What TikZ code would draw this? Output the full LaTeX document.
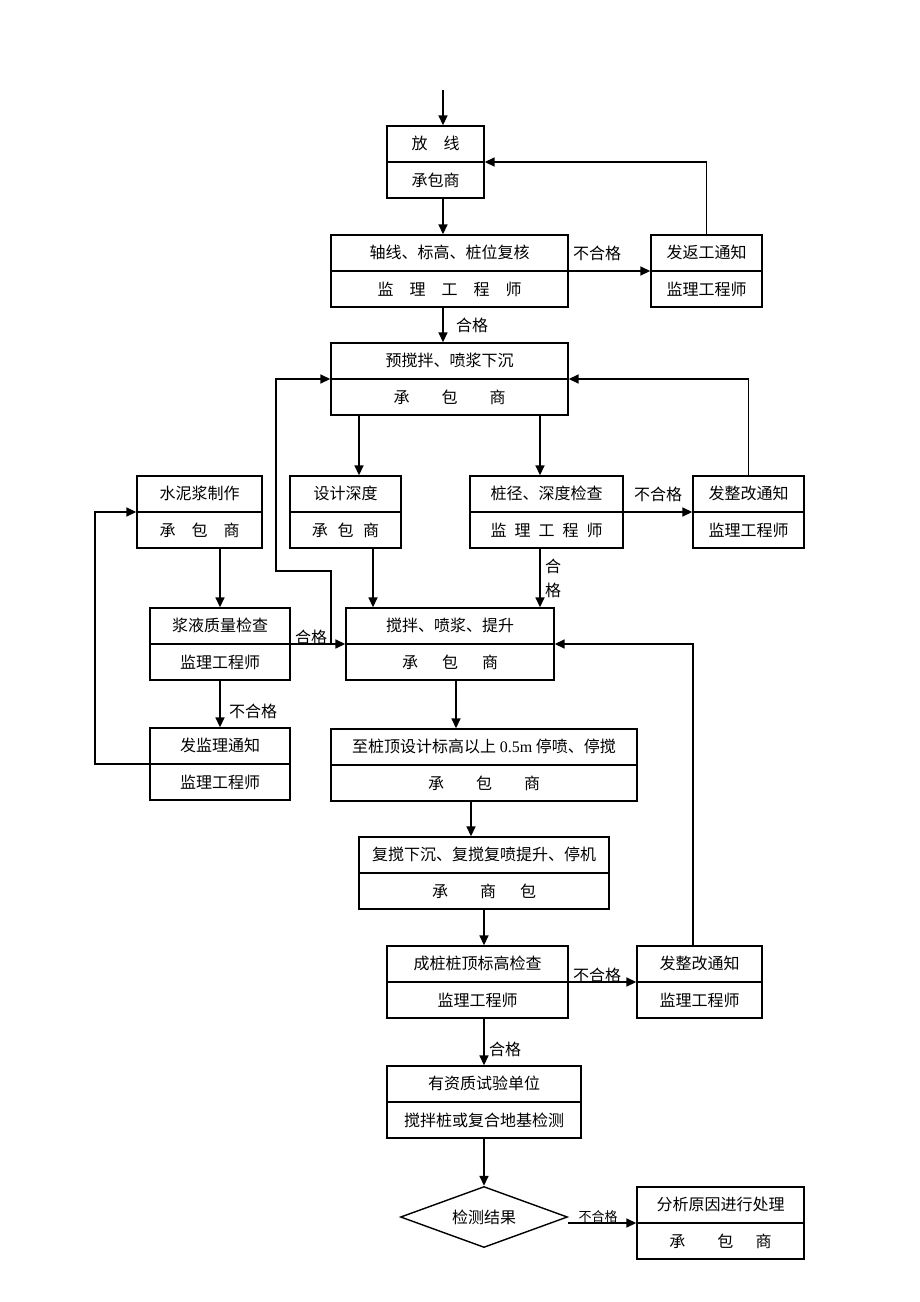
\documentclass[tikz,border=0pt]{standalone}
\usepackage{fontspec}
\setmainfont{Noto Sans CJK SC}
\newfontfamily\latinfont{Liberation Serif}
\usetikzlibrary{arrows.meta,fit,calc,shapes.geometric}
\tikzset{
  box/.style={draw, line width=0.7pt, inner sep=0pt, rectangle},
  txt/.style={inner sep=0pt, font=\fontsize{8}{10}\selectfont},
  lbl/.style={inner sep=0pt, font=\fontsize{8}{10}\selectfont},
  smalllbl/.style={inner sep=0pt, font=\fontsize{6.5}{8}\selectfont},
  arr/.style={line width=0.8pt, -{Triangle[length=5pt,width=4.5pt]}},
  ln/.style={line width=0.7pt}
}
\newcommand\tbox[7]{%
  \node[box, fit={(#2,#3) (#4,#5)}] (#1) {};
  \draw[ln] (#1.west) -- (#1.east);
  \node[txt] (#1-t) at ($(#1.center)!0.5!(#1.north)$) {#6};
  \node[txt] (#1-b) at ($(#1.center)!0.5!(#1.south)$) {#7};
}
\newcommand\gp[1]{\hspace{#1}}
\begin{document}
\begin{tikzpicture}[x=0.5pt,y=-0.5pt]
\useasboundingbox (0,0) rectangle (920,1302);

% boxes
\tbox{b1}{387}{126}{484}{198}{放\gp{1em}线}{承包商}
\tbox{b2}{331}{235}{568}{307}{轴线、标高、桩位复核}{监\gp{1em}理\gp{1em}工\gp{1em}程\gp{1em}师}
\tbox{r1}{651}{235}{762}{307}{发返工通知}{监理工程师}
\tbox{b3}{331}{343}{568}{415}{预搅拌、喷浆下沉}{承\gp{2em}包\gp{2em}商}
\tbox{c1}{137}{476}{262}{548}{水泥浆制作}{承\gp{1em}包\gp{1em}商}
\tbox{c2}{290}{476}{401}{548}{设计深度}{承\gp{0.6em}包\gp{0.6em}商}
\tbox{c3}{470}{476}{623}{548}{桩径、深度检查}{监\gp{0.5em}理\gp{0.5em}工\gp{0.5em}程\gp{0.5em}师}
\tbox{c4}{693}{476}{804}{548}{发整改通知}{监理工程师}
\tbox{d1}{150}{608}{290}{680}{浆液质量检查}{监理工程师}
\tbox{d2}{346}{608}{554}{680}{搅拌、喷浆、提升}{承\gp{1.5em}包\gp{1.5em}商}
\tbox{e1}{150}{728}{290}{800}{发监理通知}{监理工程师}
\tbox{e2}{331}{729}{637}{801}{至桩顶设计标高以上 {\latinfont 0.5m} 停喷、停搅}{承\gp{2em}包\gp{2em}商}
\tbox{f1}{359}{837}{609}{909}{复搅下沉、复搅复喷提升、停机}{承\gp{2em}商\gp{1.5em}包}
\tbox{g1}{387}{946}{568}{1018}{成桩桩顶标高检查}{监理工程师}
\tbox{g2}{637}{946}{762}{1018}{发整改通知}{监理工程师}
\tbox{h1}{387}{1066}{581}{1138}{有资质试验单位}{搅拌桩或复合地基检测}
\node[diamond, draw, line width=0.7pt, inner sep=0pt, minimum width=83.5pt, minimum height=30.5pt] (k) at (484,1217) {};
\node[txt] (k-t) at (k.center) {检测结果};
\tbox{m}{637}{1187}{804}{1259}{分析原因进行处理}{承\gp{2em}包\gp{1.4em}商}

% coordinates
\coordinate (s0) at (443,90);
\coordinate (xa) at (359,0);
\coordinate (xb) at (540,0);
\coordinate (xc) at (373,0);
\coordinate (xd) at (220,0);
\coordinate (xe) at (456,0);
\coordinate (xf) at (471,0);
\coordinate (xg) at (484,0);
\coordinate (xh) at (693,0);
\coordinate (j1) at (331,644);
\coordinate (j2) at (331,571);
\coordinate (j3) at (276,571);
\coordinate (j4) at (95,764);

% connectors
\draw[arr] (s0) -- (s0 |- b1.north);
\draw[arr] (s0 |- b1.south) -- (s0 |- b2.north);
\draw[arr] (b2.east) -- (r1.west);
\node[lbl] at (597,253) {不合格};
\draw[arr] (r1.north) |- (b1.east);
\draw[arr] (s0 |- b2.south) -- (s0 |- b3.north);
\node[lbl] at (472,325) {合格};

\draw[arr] (xa |- b3.south) -- (xa |- c2.north);
\draw[arr] (xb |- b3.south) -- (xb |- c3.north);
\draw[arr] (c3.east) -- (c4.west);
\node[lbl] at (658,494) {不合格};
\draw[arr] (c4.north) |- (b3.east);

\draw[arr] (xc |- c2.south) -- (xc |- d2.north);
\draw[arr] (xb |- c3.south) -- (xb |- d2.north);
\node[lbl] at (553,566) {合};
\node[lbl] at (553,590) {格};

\draw[arr] (xd |- c1.south) -- (xd |- d1.north);
\draw[arr] (d1.east) -- (d1.east -| d2.west);
\node[lbl] at (311,637) {合格};
\draw[arr] (j1) -- (j2) -- (j3) |- (b3.west);

\draw[arr] (xd |- d1.south) -- (xd |- e1.north);
\node[lbl] at (253,711) {不合格};
\draw[arr] (e1.west) -- (j4) |- (c1.west);

\draw[arr] (xe |- d2.south) -- (xe |- e2.north);
\draw[arr] (xf |- e2.south) -- (xf |- f1.north);
\draw[arr] (xg |- f1.south) -- (xg |- g1.north);
\draw[arr] (g1.east) -- (g2.west);
\node[lbl] at (597,975) {不合格};
\draw[arr] (xh |- g2.north) |- (d2.east);

\draw[arr] (xg |- g1.south) -- (xg |- h1.north);
\node[lbl] at (505,1049) {合格};
\draw[arr] (xg |- h1.south) -- (k.north);
\draw[arr] (k.east |- m.west) -- (m.west);
\node[smalllbl] at (598,1217) {不合格};
\end{tikzpicture}
\end{document}
